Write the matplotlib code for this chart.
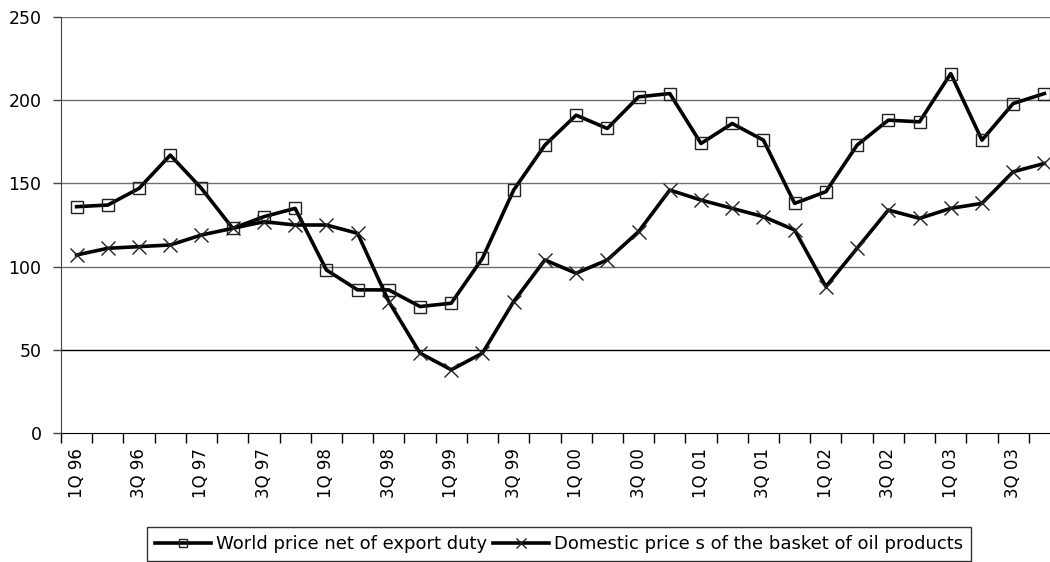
import matplotlib
matplotlib.use("Agg")
import matplotlib.pyplot as plt

plt.rcParams["font.family"] = ["DejaVu Sans"]

# quarters 1Q 96 .. 4Q 03
years = ["96", "97", "98", "99", "00", "01", "02", "03"]
quarters = [f"{q}Q {y}" for y in years for q in range(1, 5)]

world_price = [136, 137, 147, 167, 147, 123, 130, 135, 98, 86, 86, 76,
               78, 105, 146, 173, 191, 183, 202, 204, 174, 186, 176, 138,
               145, 173, 188, 187, 216, 176, 198, 204]
domestic_price = [107, 111, 112, 113, 119, 123, 127, 125, 125, 120, 79, 48,
                  38, 48, 79, 104, 96, 104, 121, 146, 140, 135, 130, 122,
                  88, 111, 134, 129, 135, 138, 157, 162]

grid_levels = [50, 100, 150, 200, 250]

fig = plt.figure(figsize=(10.5, 5.62), dpi=100)
ax = fig.add_axes([61 / 1050, 129 / 562, 999 / 1050, 416 / 562])

x = list(range(len(quarters)))

for g in grid_levels:
    ax.axhline(g, color="#707070" if g != 50 else "black", lw=1.0, zorder=1)

ax.plot(x, world_price, color="black", lw=2.6, marker="s", markersize=8.5,
        markerfacecolor="none", markeredgecolor="#222222", markeredgewidth=1.0,
        label="World price net of export duty", zorder=3)
ax.plot(x, domestic_price, color="black", lw=2.6, marker="x", markersize=10,
        markeredgecolor="#222222", markeredgewidth=1.0,
        label="Domestic price s of the basket of oil products", zorder=3)

ax.set_xlim(-0.5, len(quarters) - 0.5)
ax.set_ylim(0, 250)
ax.set_yticks([0, 50, 100, 150, 200, 250])
ax.tick_params(axis="y", length=6, width=1, pad=8, labelsize=12.5, color="#444444")

# tick marks between categories, labels every second quarter
ax.set_xticks([i - 0.5 for i in range(len(quarters) + 1)])
ax.set_xticklabels([])
ax.tick_params(axis="x", which="major", length=7, width=1)
ax.set_xticks(x[::2], minor=True)
ax.set_xticklabels(quarters[::2], minor=True, rotation=90, fontsize=12)
ax.tick_params(axis="x", which="minor", length=0, pad=11)

for s in ["top", "right"]:
    ax.spines[s].set_visible(False)
ax.spines["left"].set_color("#444444")
ax.spines["bottom"].set_color("black")

leg = fig.legend(loc="upper left", bbox_to_anchor=(147 / 1050, 1 - 527 / 562),
                 ncol=2, fontsize=13, frameon=True, fancybox=False,
                 edgecolor="black", handlelength=3.1, handletextpad=0.28,
                 columnspacing=0.3, borderaxespad=0, borderpad=0.45,
                 markerscale=0.75)
leg.get_frame().set_linewidth(1.0)

fig.savefig("out.png", dpi=100)
